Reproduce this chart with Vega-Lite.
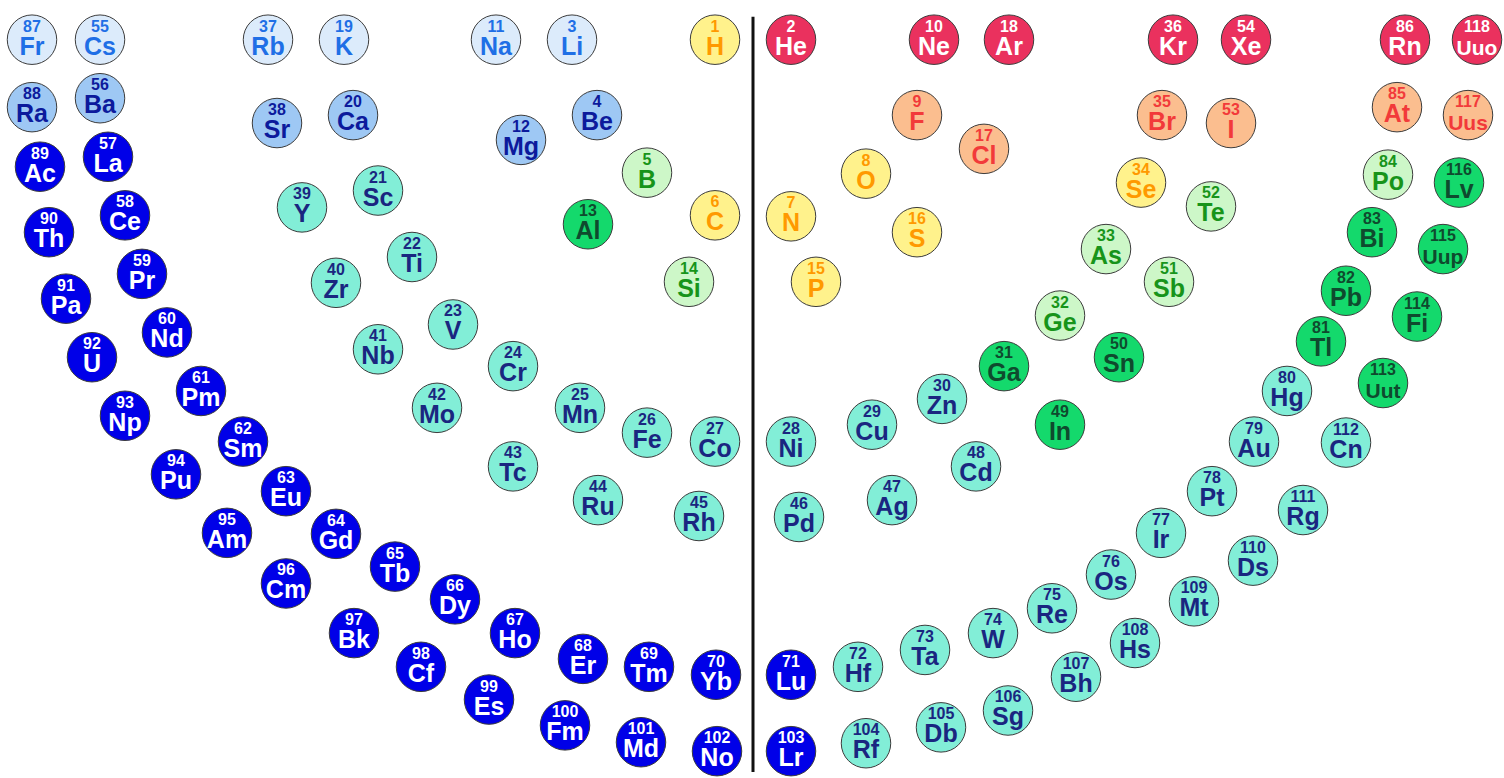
{
  "$schema": "https://vega.github.io/schema/vega-lite/v6.json",
  "width": 1504,
  "height": 778,
  "autosize": {"type": "fit", "contains": "padding"},
  "padding": 0,
  "background": "white",
  "config": {"view": {"stroke": null}},
  "datasets": {
    "elements": [
      {"n": 1, "s": "H", "cat": "nonmetal", "x": 715, "y": 40},
      {"n": 2, "s": "He", "cat": "noble", "x": 791, "y": 40},
      {"n": 3, "s": "Li", "cat": "alkali", "x": 572, "y": 40},
      {"n": 4, "s": "Be", "cat": "alkaline", "x": 597, "y": 116},
      {"n": 5, "s": "B", "cat": "metalloid", "x": 647, "y": 174},
      {"n": 6, "s": "C", "cat": "nonmetal", "x": 715, "y": 217},
      {"n": 7, "s": "N", "cat": "nonmetal", "x": 791, "y": 218},
      {"n": 8, "s": "O", "cat": "nonmetal", "x": 866, "y": 175},
      {"n": 9, "s": "F", "cat": "halogen", "x": 917, "y": 116},
      {"n": 10, "s": "Ne", "cat": "noble", "x": 934, "y": 40},
      {"n": 11, "s": "Na", "cat": "alkali", "x": 496, "y": 40},
      {"n": 12, "s": "Mg", "cat": "alkaline", "x": 521, "y": 141},
      {"n": 13, "s": "Al", "cat": "post", "x": 588, "y": 226},
      {"n": 14, "s": "Si", "cat": "metalloid", "x": 689, "y": 284},
      {"n": 15, "s": "P", "cat": "nonmetal", "x": 816, "y": 284},
      {"n": 16, "s": "S", "cat": "nonmetal", "x": 917, "y": 234},
      {"n": 17, "s": "Cl", "cat": "halogen", "x": 984, "y": 150},
      {"n": 18, "s": "Ar", "cat": "noble", "x": 1009, "y": 40},
      {"n": 19, "s": "K", "cat": "alkali", "x": 344, "y": 40},
      {"n": 20, "s": "Ca", "cat": "alkaline", "x": 353, "y": 116},
      {"n": 21, "s": "Sc", "cat": "transition", "x": 378, "y": 192},
      {"n": 22, "s": "Ti", "cat": "transition", "x": 412, "y": 259},
      {"n": 23, "s": "V", "cat": "transition", "x": 453, "y": 327},
      {"n": 24, "s": "Cr", "cat": "transition", "x": 513, "y": 369},
      {"n": 25, "s": "Mn", "cat": "transition", "x": 580, "y": 411},
      {"n": 26, "s": "Fe", "cat": "transition", "x": 647, "y": 436},
      {"n": 27, "s": "Co", "cat": "transition", "x": 715, "y": 445},
      {"n": 28, "s": "Ni", "cat": "transition", "x": 791, "y": 445},
      {"n": 29, "s": "Cu", "cat": "transition", "x": 872, "y": 428},
      {"n": 30, "s": "Zn", "cat": "transition", "x": 942, "y": 402},
      {"n": 31, "s": "Ga", "cat": "post", "x": 1004, "y": 369},
      {"n": 32, "s": "Ge", "cat": "metalloid", "x": 1060, "y": 318},
      {"n": 33, "s": "As", "cat": "metalloid", "x": 1106, "y": 251},
      {"n": 34, "s": "Se", "cat": "nonmetal", "x": 1141, "y": 184},
      {"n": 35, "s": "Br", "cat": "halogen", "x": 1162, "y": 116},
      {"n": 36, "s": "Kr", "cat": "noble", "x": 1173, "y": 40},
      {"n": 37, "s": "Rb", "cat": "alkali", "x": 268, "y": 40},
      {"n": 38, "s": "Sr", "cat": "alkaline", "x": 277, "y": 124},
      {"n": 39, "s": "Y", "cat": "transition", "x": 302, "y": 209},
      {"n": 40, "s": "Zr", "cat": "transition", "x": 336, "y": 285},
      {"n": 41, "s": "Nb", "cat": "transition", "x": 378, "y": 352},
      {"n": 42, "s": "Mo", "cat": "transition", "x": 437, "y": 411},
      {"n": 43, "s": "Tc", "cat": "transition", "x": 513, "y": 470},
      {"n": 44, "s": "Ru", "cat": "transition", "x": 598, "y": 504},
      {"n": 45, "s": "Rh", "cat": "transition", "x": 699, "y": 520},
      {"n": 46, "s": "Pd", "cat": "transition", "x": 799, "y": 521},
      {"n": 47, "s": "Ag", "cat": "transition", "x": 892, "y": 504},
      {"n": 48, "s": "Cd", "cat": "transition", "x": 976, "y": 470},
      {"n": 49, "s": "In", "cat": "post", "x": 1060, "y": 428},
      {"n": 50, "s": "Sn", "cat": "post", "x": 1119, "y": 360},
      {"n": 51, "s": "Sb", "cat": "metalloid", "x": 1169, "y": 284},
      {"n": 52, "s": "Te", "cat": "metalloid", "x": 1211, "y": 208},
      {"n": 53, "s": "I", "cat": "halogen", "x": 1231, "y": 124},
      {"n": 54, "s": "Xe", "cat": "noble", "x": 1246, "y": 40},
      {"n": 55, "s": "Cs", "cat": "alkali", "x": 100, "y": 40},
      {"n": 56, "s": "Ba", "cat": "alkaline", "x": 100, "y": 99},
      {"n": 57, "s": "La", "cat": "fblock", "x": 108, "y": 158},
      {"n": 58, "s": "Ce", "cat": "fblock", "x": 125, "y": 217},
      {"n": 59, "s": "Pr", "cat": "fblock", "x": 142, "y": 276},
      {"n": 60, "s": "Nd", "cat": "fblock", "x": 167, "y": 335},
      {"n": 61, "s": "Pm", "cat": "fblock", "x": 201, "y": 394},
      {"n": 62, "s": "Sm", "cat": "fblock", "x": 243, "y": 445},
      {"n": 63, "s": "Eu", "cat": "fblock", "x": 286, "y": 495},
      {"n": 64, "s": "Gd", "cat": "fblock", "x": 336, "y": 538},
      {"n": 65, "s": "Tb", "cat": "fblock", "x": 395, "y": 571},
      {"n": 66, "s": "Dy", "cat": "fblock", "x": 455, "y": 604},
      {"n": 67, "s": "Ho", "cat": "fblock", "x": 515, "y": 638},
      {"n": 68, "s": "Er", "cat": "fblock", "x": 583, "y": 664},
      {"n": 69, "s": "Tm", "cat": "fblock", "x": 649, "y": 672},
      {"n": 70, "s": "Yb", "cat": "fblock", "x": 716, "y": 680},
      {"n": 71, "s": "Lu", "cat": "fblock", "x": 791, "y": 680},
      {"n": 72, "s": "Hf", "cat": "transition", "x": 858, "y": 672},
      {"n": 73, "s": "Ta", "cat": "transition", "x": 925, "y": 655},
      {"n": 74, "s": "W", "cat": "transition", "x": 993, "y": 638},
      {"n": 75, "s": "Re", "cat": "transition", "x": 1052, "y": 613},
      {"n": 76, "s": "Os", "cat": "transition", "x": 1111, "y": 579},
      {"n": 77, "s": "Ir", "cat": "transition", "x": 1161, "y": 537},
      {"n": 78, "s": "Pt", "cat": "transition", "x": 1212, "y": 495},
      {"n": 79, "s": "Au", "cat": "transition", "x": 1254, "y": 445},
      {"n": 80, "s": "Hg", "cat": "transition", "x": 1287, "y": 394},
      {"n": 81, "s": "Tl", "cat": "post", "x": 1321, "y": 344},
      {"n": 82, "s": "Pb", "cat": "post", "x": 1346, "y": 293},
      {"n": 83, "s": "Bi", "cat": "post", "x": 1372, "y": 234},
      {"n": 84, "s": "Po", "cat": "metalloid", "x": 1388, "y": 176},
      {"n": 85, "s": "At", "cat": "halogen", "x": 1397, "y": 108},
      {"n": 86, "s": "Rn", "cat": "noble", "x": 1405, "y": 40},
      {"n": 87, "s": "Fr", "cat": "alkali", "x": 32, "y": 40},
      {"n": 88, "s": "Ra", "cat": "alkaline", "x": 32, "y": 108},
      {"n": 89, "s": "Ac", "cat": "fblock", "x": 40, "y": 168},
      {"n": 90, "s": "Th", "cat": "fblock", "x": 49, "y": 234},
      {"n": 91, "s": "Pa", "cat": "fblock", "x": 66, "y": 301},
      {"n": 92, "s": "U", "cat": "fblock", "x": 92, "y": 360},
      {"n": 93, "s": "Np", "cat": "fblock", "x": 125, "y": 419},
      {"n": 94, "s": "Pu", "cat": "fblock", "x": 176, "y": 478},
      {"n": 95, "s": "Am", "cat": "fblock", "x": 227, "y": 537},
      {"n": 96, "s": "Cm", "cat": "fblock", "x": 286, "y": 588},
      {"n": 97, "s": "Bk", "cat": "fblock", "x": 354, "y": 638},
      {"n": 98, "s": "Cf", "cat": "fblock", "x": 421, "y": 672},
      {"n": 99, "s": "Es", "cat": "fblock", "x": 489, "y": 705},
      {"n": 100, "s": "Fm", "cat": "fblock", "x": 565, "y": 731},
      {"n": 101, "s": "Md", "cat": "fblock", "x": 641, "y": 748},
      {"n": 102, "s": "No", "cat": "fblock", "x": 717, "y": 757},
      {"n": 103, "s": "Lr", "cat": "fblock", "x": 791, "y": 757},
      {"n": 104, "s": "Rf", "cat": "transition", "x": 866, "y": 749},
      {"n": 105, "s": "Db", "cat": "transition", "x": 941, "y": 733},
      {"n": 106, "s": "Sg", "cat": "transition", "x": 1008, "y": 716},
      {"n": 107, "s": "Bh", "cat": "transition", "x": 1076, "y": 682},
      {"n": 108, "s": "Hs", "cat": "transition", "x": 1135, "y": 648},
      {"n": 109, "s": "Mt", "cat": "transition", "x": 1194, "y": 606},
      {"n": 110, "s": "Ds", "cat": "transition", "x": 1253, "y": 565},
      {"n": 111, "s": "Rg", "cat": "transition", "x": 1303, "y": 514},
      {"n": 112, "s": "Cn", "cat": "transition", "x": 1346, "y": 446},
      {"n": 113, "s": "Uut", "cat": "post", "x": 1383, "y": 386},
      {"n": 114, "s": "Fi", "cat": "post", "x": 1417, "y": 319},
      {"n": 115, "s": "Uup", "cat": "post", "x": 1443, "y": 251},
      {"n": 116, "s": "Lv", "cat": "post", "x": 1459, "y": 184},
      {"n": 117, "s": "Uus", "cat": "halogen", "x": 1468, "y": 116},
      {"n": 118, "s": "Uuo", "cat": "noble", "x": 1477, "y": 40}
    ],
    "divider": [
      {"x": 753, "top": 17, "bottom": 778}
    ]
  },
  "layer": [
    {
      "data": {"name": "divider"},
      "mark": {"type": "rule", "color": "#111111", "strokeWidth": 3},
      "encoding": {
        "x": {"field": "x", "type": "quantitative", "scale": {"domain": [0, 1504], "nice": false, "zero": false}, "axis": null},
        "y": {"field": "top", "type": "quantitative", "scale": {"domain": [0, 778], "nice": false, "zero": false, "reverse": true}, "axis": null},
        "y2": {"field": "bottom"}
      }
    },
    {
      "data": {"name": "elements"},
      "encoding": {
        "x": {"field": "x", "type": "quantitative", "scale": {"domain": [0, 1504], "nice": false, "zero": false}, "axis": null},
        "y": {"field": "y", "type": "quantitative", "scale": {"domain": [0, 778], "nice": false, "zero": false, "reverse": true}, "axis": null}
      },
      "layer": [
        {
          "mark": {"type": "point", "shape": "circle", "filled": true, "size": 2450, "stroke": "#3c3c3c", "strokeWidth": 1, "opacity": 1},
          "encoding": {
            "fill": {
              "field": "cat",
              "type": "nominal",
              "legend": null,
              "scale": {
                "domain": ["alkali", "alkaline", "fblock", "transition", "post", "metalloid", "nonmetal", "halogen", "noble"],
                "range": ["#dcebfb", "#9ec8f4", "#0000e8", "#82eed7", "#14d96c", "#cdf7c8", "#fff28c", "#fbbe8f", "#ea315e"]
              }
            }
          }
        },
        {
          "mark": {"type": "text", "font": "Liberation Sans", "fontWeight": "bold", "fontSize": 16, "baseline": "alphabetic", "align": "center", "dy": -8},
          "encoding": {
            "text": {"field": "n", "type": "nominal"},
            "color": {
              "field": "cat",
              "type": "nominal",
              "legend": null,
              "scale": {
                "domain": ["alkali", "alkaline", "fblock", "transition", "post", "metalloid", "nonmetal", "halogen", "noble"],
                "range": ["#1f6fe6", "#0c1a9c", "#ffffff", "#1a2680", "#0f4a2e", "#17941a", "#ff9900", "#f23a3a", "#ffffff"]
              }
            }
          }
        },
        {
          "mark": {"type": "text", "font": "Liberation Sans", "fontWeight": "bold", "baseline": "alphabetic", "align": "center", "dy": 15},
          "encoding": {
            "text": {"field": "s", "type": "nominal"},
            "size": {"condition": {"test": "length(datum.s) > 2", "value": 21}, "value": 25},
            "color": {"field": "cat", "type": "nominal", "legend": null}
          }
        }
      ]
    }
  ]
}
